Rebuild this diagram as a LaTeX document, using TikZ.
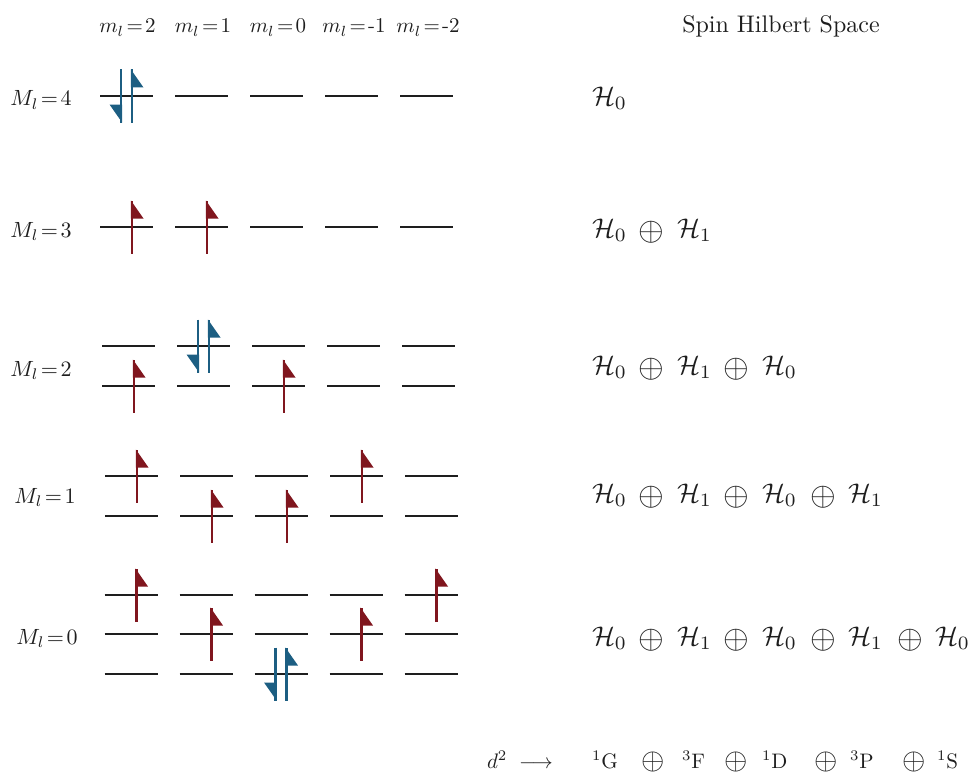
\documentclass[tikz,border=0pt]{standalone}
\usepackage{fontspec}
\usepackage{graphicx}
\definecolor{spinred}{RGB}{128,22,30}
\definecolor{spinblue}{RGB}{28,94,130}
\definecolor{ink}{RGB}{30,30,30}
\newcommand{\sbx}[2]{\scalebox{#1}{#2}}
\begin{document}
\begin{tikzpicture}[x=1pt,y=-1pt,
  every node/.style={inner sep=0pt, outer sep=0pt, text=ink, font=\fontsize{10}{12}\selectfont},
  levelline/.style={draw=ink, line width=2.8pt},
  shaft/.style={line width=2.2pt},
  mlab/.style={anchor=base},
  Mlab/.style={anchor=base},
  hterm/.style={anchor=base west},
  osum/.style={anchor=center},
  titletext/.style={anchor=base},
  termtext/.style={anchor=base west},
  pics/orb/.style={code={\draw[levelline] (-26.5,0) -- (26.5,0);}},
  pics/spinup/.style={code={
     \draw[shaft,draw=#1] (5.5,26.5) -- (5.5,-26.5);
     \fill[#1] (4.4,-26.5) -- (4.4,-8.5) -- (17,-8.5) -- cycle;}},
  pics/spindown/.style={code={
     \draw[shaft,draw=#1] (-5.5,-26.5) -- (-5.5,26.5);
     \fill[#1] (-4.4,26.5) -- (-4.4,8.5) -- (-17,8.5) -- cycle;}},
]
\useasboundingbox (0,0) rectangle (972,776);

% ---- column labels ----
\node[mlab] (m2)  at (127.5,33) {\sbx{2.1}{$m_l\mkern2mu{=}\mkern2mu2$}};
\node[mlab] (m1)  at (203,33)   {\sbx{2.1}{$m_l\mkern2mu{=}\mkern2mu1$}};
\node[mlab] (m0)  at (278,33)   {\sbx{2.1}{$m_l\mkern2mu{=}\mkern2mu0$}};
\node[mlab] (mm1) at (354,33)   {\sbx{2.1}{$m_l\mkern2mu{=}\mkern2mu$-1}};
\node[mlab] (mm2) at (428,33)   {\sbx{2.1}{$m_l\mkern2mu{=}\mkern2mu$-2}};
\node[titletext] (spin) at (781,33) {\sbx{2.4}{Spin Hilbert Space}};

% ---- row labels ----
\node[Mlab] (L4) at (41,106) {\sbx{2.2}{$M_l\mkern2mu{=}\mkern2mu4$}};
\node[Mlab] (L3) at (41,237) {\sbx{2.2}{$M_l\mkern2mu{=}\mkern2mu3$}};
\node[Mlab] (L2) at (41,376) {\sbx{2.2}{$M_l\mkern2mu{=}\mkern2mu2$}};
\node[Mlab] (L1) at (45,503) {\sbx{2.2}{$M_l\mkern2mu{=}\mkern2mu1$}};
\node[Mlab] (L0) at (47,644) {\sbx{2.2}{$M_l\mkern2mu{=}\mkern2mu0$}};

% ---- orbital levels ----
\foreach \c in {1,...,5}{
  \coordinate (r4-\c)  at ({126.5+75*(\c-1)},96);
  \coordinate (r3-\c)  at ({126.5+75*(\c-1)},227);
  \coordinate (r2a-\c) at ({128.5+75*(\c-1)},346);
  \coordinate (r2b-\c) at ({128.5+75*(\c-1)},386);
  \coordinate (r1a-\c) at ({131.5+75*(\c-1)},476);
  \coordinate (r1b-\c) at ({131.5+75*(\c-1)},516);
  \coordinate (r0a-\c) at ({131+75*(\c-1)},595);
  \coordinate (r0b-\c) at ({131+75*(\c-1)},634);
  \coordinate (r0c-\c) at ({131+75*(\c-1)},674);
  \foreach \r in {r4,r3,r2a,r2b,r1a,r1b,r0a,r0b,r0c}{
    \pic at (\r-\c) {orb};
  }
}

% ---- electrons ----
% M_l = 4
\pic at (r4-1) {spindown=spinblue};
\pic at (r4-1) {spinup=spinblue};
% M_l = 3
\pic at (r3-1) {spinup=spinred};
\pic at (r3-2) {spinup=spinred};
% M_l = 2
\pic at (r2b-1) {spinup=spinred};
\pic at (r2a-2) {spindown=spinblue};
\pic at (r2a-2) {spinup=spinblue};
\pic at (r2b-3) {spinup=spinred};
% M_l = 1
\pic at (r1a-1) {spinup=spinred};
\pic at (r1b-2) {spinup=spinred};
\pic at (r1b-3) {spinup=spinred};
\pic at (r1a-4) {spinup=spinred};
% M_l = 0
\pic at (r0a-1) {spinup=spinred};
\pic at (r0b-2) {spinup=spinred};
\pic at (r0c-3) {spindown=spinblue};
\pic at (r0c-3) {spinup=spinblue};
\pic at (r0b-4) {spinup=spinred};
\pic at (r0a-5) {spinup=spinred};

% ---- spin Hilbert spaces ----
% row M_l=4
\node[hterm] (h4a) at (592,105) {\sbx{2.7}{$\mathcal{H}_0$}};
% row M_l=3
\node[hterm] (h3a) at (592,237) {\sbx{2.7}{$\mathcal{H}_0$}};
\node[osum]  (p3a) at (651.5,232) {\sbx{3.3}{$\oplus$}};
\node[hterm] (h3b) at (677,237) {\sbx{2.7}{$\mathcal{H}_1$}};
% row M_l=2
\node[hterm] (h2a) at (592,374) {\sbx{2.7}{$\mathcal{H}_0$}};
\node[osum]  (p2a) at (651.5,369) {\sbx{3.3}{$\oplus$}};
\node[hterm] (h2b) at (677,374) {\sbx{2.7}{$\mathcal{H}_1$}};
\node[osum]  (p2b) at (736.5,369) {\sbx{3.3}{$\oplus$}};
\node[hterm] (h2c) at (762,374) {\sbx{2.7}{$\mathcal{H}_0$}};
% row M_l=1
\node[hterm] (h1a) at (592,502) {\sbx{2.7}{$\mathcal{H}_0$}};
\node[osum]  (p1a) at (651.5,497) {\sbx{3.3}{$\oplus$}};
\node[hterm] (h1b) at (677,502) {\sbx{2.7}{$\mathcal{H}_1$}};
\node[osum]  (p1b) at (736.5,497) {\sbx{3.3}{$\oplus$}};
\node[hterm] (h1c) at (762,502) {\sbx{2.7}{$\mathcal{H}_0$}};
\node[osum]  (p1c) at (823.5,497) {\sbx{3.3}{$\oplus$}};
\node[hterm] (h1d) at (848,502) {\sbx{2.7}{$\mathcal{H}_1$}};
% row M_l=0
\node[hterm] (h0a) at (592,645) {\sbx{2.7}{$\mathcal{H}_0$}};
\node[osum]  (p0a) at (651.5,640) {\sbx{3.3}{$\oplus$}};
\node[hterm] (h0b) at (677,645) {\sbx{2.7}{$\mathcal{H}_1$}};
\node[osum]  (p0b) at (736.5,640) {\sbx{3.3}{$\oplus$}};
\node[hterm] (h0c) at (762,645) {\sbx{2.7}{$\mathcal{H}_0$}};
\node[osum]  (p0c) at (823.5,640) {\sbx{3.3}{$\oplus$}};
\node[hterm] (h0d) at (848,645) {\sbx{2.7}{$\mathcal{H}_1$}};
\node[osum]  (p0d) at (910,640) {\sbx{3.3}{$\oplus$}};
\node[hterm] (h0e) at (935,645) {\sbx{2.7}{$\mathcal{H}_0$}};

% ---- term symbols ----
\node[termtext] (d2)  at (487,768) {\sbx{2.1}{$d^2$}};
\node[termtext] (arr) at (519,768) {\sbx{2.1}{$\longrightarrow$}};
\node[termtext] (tG)  at (592,768) {\sbx{2.1}{\textsuperscript{1}G}};
\node[osum]     (qa)  at (653,761.5) {\sbx{3.0}{$\oplus$}};
\node[termtext] (tF)  at (682,768) {\sbx{2.1}{\textsuperscript{3}F}};
\node[osum]     (qb)  at (736,761.5) {\sbx{3.0}{$\oplus$}};
\node[termtext] (tD)  at (762,768) {\sbx{2.1}{\textsuperscript{1}D}};
\node[osum]     (qc)  at (826,761.5) {\sbx{3.0}{$\oplus$}};
\node[termtext] (tP)  at (850,768) {\sbx{2.1}{\textsuperscript{3}P}};
\node[osum]     (qd)  at (914,761.5) {\sbx{3.0}{$\oplus$}};
\node[termtext] (tS)  at (937,768) {\sbx{2.1}{\textsuperscript{1}S}};
\end{tikzpicture}
\end{document}
